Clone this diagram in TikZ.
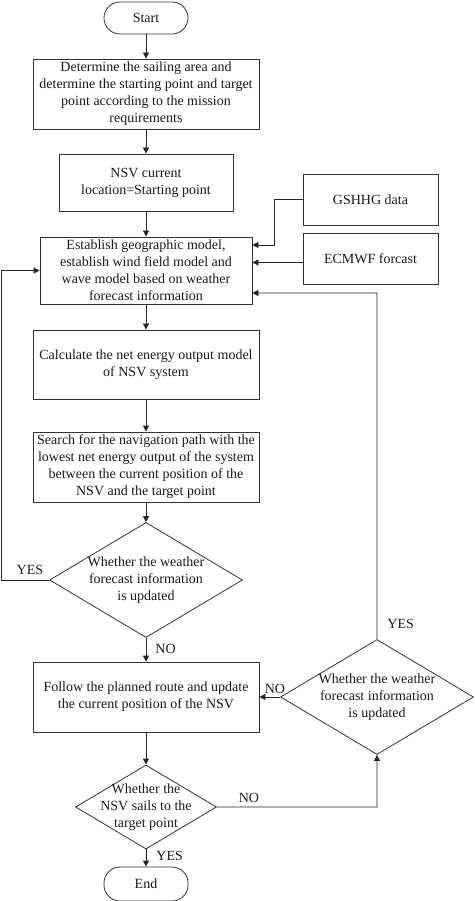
\documentclass[tikz,border=0pt]{standalone}
\usepackage{fontspec}
\setmainfont{Liberation Serif}
\usetikzlibrary{shapes.geometric,arrows.meta}
\begin{document}
\begin{tikzpicture}[x=1pt,y=-1pt,
  font=\fontsize{14}{17}\selectfont,
  every node/.style={text=black!90},
  procbox/.style={draw=black!80, line width=0.8pt, rectangle, align=center, inner sep=0pt},
  termbox/.style={draw=black!80, line width=0.8pt, rectangle, rounded corners=16pt, minimum width=84pt, align=center, inner sep=0pt},
  dia/.style={draw=black!80, line width=0.8pt, diamond, inner sep=0pt},
  lbl/.style={inner sep=0pt},
  arr/.style={draw=black!85, line width=0.8pt, -{Triangle[length=6pt,width=6pt]}}]
\useasboundingbox (0,0) rectangle (474,901);
% nodes
\node[termbox, minimum height=32pt] (start) at (146,18) {Start};
\node[procbox, minimum width=226pt, minimum height=70pt] (b1) at (146,94)
  {Determine the sailing area and\\determine the starting point and target\\point according to the mission\\requirements};
\node[procbox, minimum width=174pt, minimum height=57pt] (b2) at (146,182.5)
  {NSV current\\location=Starting point};
\node[procbox, minimum width=135pt, minimum height=51pt] (gs) at (370.5,199.5) {GSHHG data};
\node[procbox, minimum width=135pt, minimum height=51pt] (ec) at (370.5,258.5) {ECMWF forcast};
\node[procbox, minimum width=212pt, minimum height=67pt] (b3) at (146,270.5)
  {Establish geographic model,\\establish wind field model and\\wave model based on weather\\forecast information};
\node[procbox, minimum width=226pt, minimum height=69pt] (b4) at (146,364.5)
  {Calculate the net energy output model\\of NSV system};
\node[procbox, minimum width=226pt, minimum height=70pt] (b5) at (146,467)
  {Search for the navigation path with the\\lowest net energy output of the system\\between the current position of the\\NSV and the target point};
\node[dia, minimum width=193pt, minimum height=115pt] (d1) at (146,580) {};
\node[lbl, align=center] (d1t) at (d1.center) {Whether the weather\\forecast information\\is updated};
\node[procbox, minimum width=226pt, minimum height=70pt] (b6) at (146,697)
  {Follow the planned route and update\\the current position of the NSV};
\node[dia, minimum width=193pt, minimum height=115pt] (d3) at (377,697) {};
\node[lbl, align=center] (d3t) at (d3.center) {Whether the weather\\forecast information\\is updated};
\node[dia, minimum width=141pt, minimum height=84pt] (d2) at (146,807) {};
\node[lbl, align=center] (d2t) at (d2.center) {Whether the\\NSV sails to the\\target point};
\node[termbox, minimum height=34pt] (end) at (146,884) {End};
% connectors
\draw[arr] (start.south) -- (b1.north);
\draw[arr] (b1.south) -- (b2.north);
\draw[arr] (b2.south) -- (b3.north);
\draw[arr] (b3.south) -- (b4.north);
\draw[arr] (b4.south) -- (b5.north);
\draw[arr] (b5.south) -- (d1.north);
\draw[arr] (d1.south) -- node[lbl, right=9pt, pos=0.45] {NO} (b6.north);
\draw[arr] (b6.south) -- (d2.north);
\draw[arr] (d2.south) -- node[lbl, right=10pt, pos=0.4] {YES} (end.north);
\draw[arr] (gs.west) -- ++(-28,0) |- ([yshift=25.5pt]b3.east);
\draw[arr] ([yshift=-4pt]ec.west) -- ([yshift=-4pt]ec.west -| b3.east);
\draw[arr] (d1.west) -- node[lbl, above=5pt, pos=0.4] {YES} ++(-48,0) |- (b3.west);
\draw[arr] (d3.north) -- node[lbl, right=10pt, pos=0.045] {YES} ++(0,-346) -- ([yshift=-22.5pt]b3.east);
\draw[arr] (d3.west) -- node[lbl, above=3pt, pos=0.25] {NO} (b6.east);
\draw[arr] (d2.east) -- node[lbl, above=4pt, pos=0.2] {NO} ++(160,0) -- (d3.south);
\end{tikzpicture}
\end{document}
